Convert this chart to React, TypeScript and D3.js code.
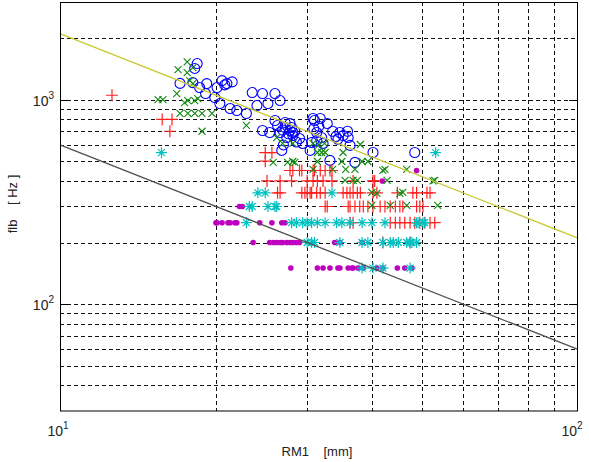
import { useEffect, useRef } from "react";
import * as d3 from "d3";

const W = 589;
const H = 462;

// blue circles: [RM1 mm, flb Hz]
const circles: [number, number][] = [
  [18.4, 1500], [18.2, 1420], [17.05, 1200], [18.05, 1210], [18.6, 1145],
  [19.2, 1197], [19.1, 1070], [20.1, 1145], [20.55, 1238], [21.0, 1197],
  [19.9, 1023], [20.35, 956], [21.3, 904], [21.95, 884], [22.9, 855],
  [23.5, 1082], [24.6, 1070], [26.0, 1070], [26.6, 989], [25.2, 956],
  [24.0, 935], [24.6, 706], [25.4, 690], [26.6, 690], [27.2, 730],
  [27.8, 706], [28.15, 667], [26.8, 564], [27.4, 652], [26.0, 790],
  [26.3, 747], [27.2, 772], [28.0, 730], [31.0, 790], [32.8, 764],
  [27.8, 764], [28.15, 690], [31.3, 690], [32.0, 652], [34.7, 690],
  [35.2, 667], [36.0, 652], [29.4, 610], [30.6, 617], [32.2, 610],
  [36.3, 597], [33.2, 504], [37.1, 493], [40.2, 551], [48.4, 551],
  [30.8, 808], [31.8, 808], [29.0, 645], [30.4, 564], [33.6, 700],
  [34.4, 640], [28.6, 620], [27.0, 600], [20.8, 1180], [21.5, 1220],
  [27.6, 680], [28.4, 700], [26.9, 710], [30.9, 720], [31.6, 740],
  [35.9, 700], [34.1, 660], [31.3, 630],
];

// green x
const crosses: [number, number][] = [
  [17.6, 1530], [16.9, 1400], [17.6, 1354], [18.05, 1432], [17.8, 1238],
  [18.05, 1197], [18.2, 989], [17.65, 989], [18.45, 1011], [15.46, 1000],
  [15.8, 1000], [16.8, 1070], [17.05, 855], [17.65, 855], [18.2, 855],
  [18.8, 855], [19.65, 855], [18.8, 700], [22.9, 747], [17.4, 967],
  [26.2, 652], [26.9, 610], [25.8, 493], [27.5, 493], [28.4, 493],
  [28.15, 610], [30.8, 610], [31.4, 551], [32.0, 551], [32.5, 551],
  [28.15, 498], [31.4, 498], [35.0, 498], [38.3, 498], [39.3, 498],
  [35.6, 456], [37.1, 456], [42.4, 456], [46.7, 456], [30.8, 456],
  [33.6, 456], [35.5, 403], [37.5, 403], [42.8, 403], [52.9, 403],
  [45.9, 352], [40.0, 352], [40.9, 348], [45.3, 348], [40.0, 304],
  [43.4, 304], [53.6, 304], [46.7, 304], [38.0, 603], [42.0, 451],
  [52.5, 400], [35.2, 551], [31.6, 600], [32.4, 610], [36.8, 403],
];

// rows of equal flb: [flb, RM1 values]
const plusRows: [number, number[]][] = [
  [1050, [12.6]],
  [800, [15.75, 16.45]],
  [700, [16.3]],
  [550, [24.9, 25.65]],
  [500, [24.9]],
  [450, [27.8, 28.15, 29.0, 29.3, 30.8, 31.0, 31.8, 32.5, 33.2, 33.5]],
  [400, [25.1, 26.6, 28.0, 30.0, 30.8, 31.4, 32.2, 33.5, 36.8, 40.2, 40.5]],
  [350, [26.3, 26.6, 29.3, 29.7, 30.0, 30.4, 30.6, 31.3, 31.8, 32.5, 35.2,
    35.8, 36.3, 36.8, 37.5, 38.0, 40.2, 40.9, 44.8, 48.0, 48.8, 51.1, 51.8]],
  [300, [32.5, 32.8, 36.0, 36.3, 37.1, 37.9, 38.5, 39.3, 40.2, 41.5, 42.4,
    43.4, 44.4, 45.3, 45.9, 48.8, 49.5, 50.2]],
  [250, [36.3, 36.8, 43.4, 44.4, 45.3, 46.3, 47.4, 48.4, 49.5, 50.6, 51.8, 52.9]],
  [200, [42.0, 47.4]],
];

const starRows: [number, number[]][] = [
  [550, [15.7, 53.1]],
  [350, [24.1, 24.9, 33.5]],
  [300, [23.2, 23.5, 25.2, 26.0, 26.2]],
  [250, [22.9, 28.0, 28.6, 29.4, 30.0, 30.6, 31.4, 32.5, 34.2, 35.0, 36.3,
    38.3, 40.0, 42.4, 48.8, 49.1, 50.2, 50.6]],
  [200, [30.0, 30.6, 31.0, 34.7, 38.3, 39.3, 42.0, 43.4, 44.0, 45.0, 46.7,
    47.4, 47.8, 48.8]],
  [150, [38.3, 40.2, 42.0, 47.4]],
];

const dotRows: [number, number[]][] = [
  [450, [48.8]],
  [400, [41.9]],
  [300, [22.2, 22.5]],
  [250, [20.0, 20.1, 20.55, 21.1, 21.3, 21.75, 21.95, 24.3, 25.65, 26.8, 27.2]],
  [200, [23.6, 25.4, 25.8, 26.2, 26.6, 26.9, 27.4, 27.8, 28.15, 28.6, 29.0,
    33.9, 34.7, 38.3]],
  [150, [27.9, 31.4, 32.2, 33.2, 34.4, 34.7, 36.0, 36.6, 36.8, 37.6, 38.5,
    40.9, 42.0, 44.8, 46.3, 47.8]],
];

const upperLine: [number, number][] = [[10, 2100], [100, 210]];
const lowerLine: [number, number][] = [[10, 600], [100, 60]];

const xGrid = [20, 30, 40, 50, 60, 70, 80, 90];
const yGrid = [40, 50, 60, 70, 80, 90, 100, 200, 300, 400, 500, 600, 700, 800, 900, 1000, 2000];
const xTicks = [10, 100];
const yTicks = [100, 1000];

const FONT = "'Liberation Sans', Arial, sans-serif";

function flatten(rows: [number, number[]][]): [number, number][] {
  return rows.flatMap(([f, xs]) => xs.map((r) => [r, f] as [number, number]));
}

export default function App() {
  const ref = useRef<SVGSVGElement>(null);

  useEffect(() => {
    if (!ref.current) return;
    const svg = d3.select(ref.current);
    svg.selectAll("*").remove();

    const x = d3.scaleLog().domain([10, 100]).range([60, 578]);
    const y = d3.scaleLog().domain([30, 3000]).range([411, 2]);

    svg.append("rect").attr("width", W).attr("height", H).attr("fill", "#fff");

    // grid
    const grid = svg.append("g").attr("stroke", "#111").attr("stroke-dasharray", "4,3").attr("stroke-width", 1);
    xGrid.forEach((v) => {
      grid.append("line")
        .attr("x1", Math.round(x(v)) + 0.5).attr("x2", Math.round(x(v)) + 0.5)
        .attr("y1", 2).attr("y2", 411);
    });
    yGrid.forEach((v) => {
      grid.append("line")
        .attr("y1", Math.round(y(v)) + 0.5).attr("y2", Math.round(y(v)) + 0.5)
        .attr("x1", 60).attr("x2", 578);
    });

    // blue circles
    svg.append("g").selectAll("circle").data(circles).join("circle")
      .attr("cx", (d) => x(d[0])).attr("cy", (d) => y(d[1])).attr("r", 5)
      .attr("fill", "none").attr("stroke", "#0000ff").attr("stroke-width", 1.1);

    // magenta dots
    svg.append("g").selectAll("circle").data(flatten(dotRows)).join("circle")
      .attr("cx", (d) => x(d[0])).attr("cy", (d) => y(d[1])).attr("r", 2.8)
      .attr("fill", "#c000c0");

    // red plus
    const plus = svg.append("g").attr("stroke", "#ff2020").attr("stroke-width", 1.2);
    flatten(plusRows).forEach(([r, f]) => {
      const cx = x(r), cy = y(f);
      plus.append("path").attr("d", `M${cx - 6},${cy}H${cx + 6}M${cx},${cy - 6}V${cy + 6}`);
    });

    // cyan stars
    const star = svg.append("g").attr("stroke", "#00c0c0").attr("stroke-width", 1.2);
    flatten(starRows).forEach(([r, f]) => {
      const cx = x(r), cy = y(f);
      const a = 3.5;
      star.append("path").attr("d",
        `M${cx - 5.5},${cy}H${cx + 5.5}M${cx},${cy - 5.5}V${cy + 5.5}` +
        `M${cx - a},${cy - a}L${cx + a},${cy + a}M${cx - a},${cy + a}L${cx + a},${cy - a}`);
    });

    // green x
    const cross = svg.append("g").attr("stroke", "#108a10").attr("stroke-width", 1.1);
    crosses.forEach(([r, f]) => {
      const cx = x(r), cy = y(f);
      const a = 3.5;
      cross.append("path").attr("d",
        `M${cx - a},${cy - a}L${cx + a},${cy + a}M${cx - a},${cy + a}L${cx + a},${cy - a}`);
    });

    // reference lines
    const line = d3.line<[number, number]>().x((d) => x(d[0])).y((d) => y(d[1]));
    svg.append("path").attr("d", line(upperLine)).attr("fill", "none")
      .attr("stroke", "#c8c832").attr("stroke-width", 1.3);
    svg.append("path").attr("d", line(lowerLine)).attr("fill", "none")
      .attr("stroke", "#505050").attr("stroke-width", 1.3);

    // axes box
    svg.append("rect").attr("x", 60.5).attr("y", 2.5).attr("width", 517).attr("height", 408.5)
      .attr("fill", "none").attr("stroke", "#000").attr("stroke-width", 1);

    // major ticks
    yTicks.forEach((v) => {
      const yy = Math.round(y(v)) + 0.5;
      svg.append("line").attr("x1", 60).attr("x2", 69).attr("y1", yy).attr("y2", yy).attr("stroke", "#000");
      svg.append("line").attr("x1", 569).attr("x2", 578).attr("y1", yy).attr("y2", yy).attr("stroke", "#000");
    });

    // tick labels
    const expLabel = (sel: d3.Selection<SVGTextElement, unknown, null, undefined>, e: number) => {
      sel.append("tspan").text("10");
      sel.append("tspan").attr("dy", -7).attr("font-size", 10).text(String(e));
    };
    yTicks.forEach((v) => {
      const t = svg.append("text").attr("x", 54).attr("y", y(v) + 6)
        .attr("text-anchor", "end").attr("font-family", FONT).attr("font-size", 14).attr("fill", "#222");
      expLabel(t, Math.round(Math.log10(v)));
    });
    xTicks.forEach((v, i) => {
      const t = svg.append("text").attr("x", x(v) + (i === 0 ? -2 : -6)).attr("y", 436)
        .attr("text-anchor", "middle").attr("font-family", FONT).attr("font-size", 14).attr("fill", "#222");
      expLabel(t, Math.round(Math.log10(v)));
    });

    // axis titles
    svg.append("text").attr("x", 317).attr("y", 456).attr("text-anchor", "middle")
      .attr("font-family", FONT).attr("font-size", 13).attr("fill", "#222")
      .style("white-space", "pre").text("RM1    [mm]");
    svg.append("text").attr("transform", "translate(17,204) rotate(-90)").attr("text-anchor", "middle")
      .attr("font-family", FONT).attr("font-size", 13).attr("fill", "#222")
      .style("white-space", "pre").text("flb    [ Hz ]");
  }, []);

  return (
    <svg
      ref={ref}
      width={W}
      height={H}
      style={{ position: "absolute", left: 0, top: 0 }}
    />
  );
}
